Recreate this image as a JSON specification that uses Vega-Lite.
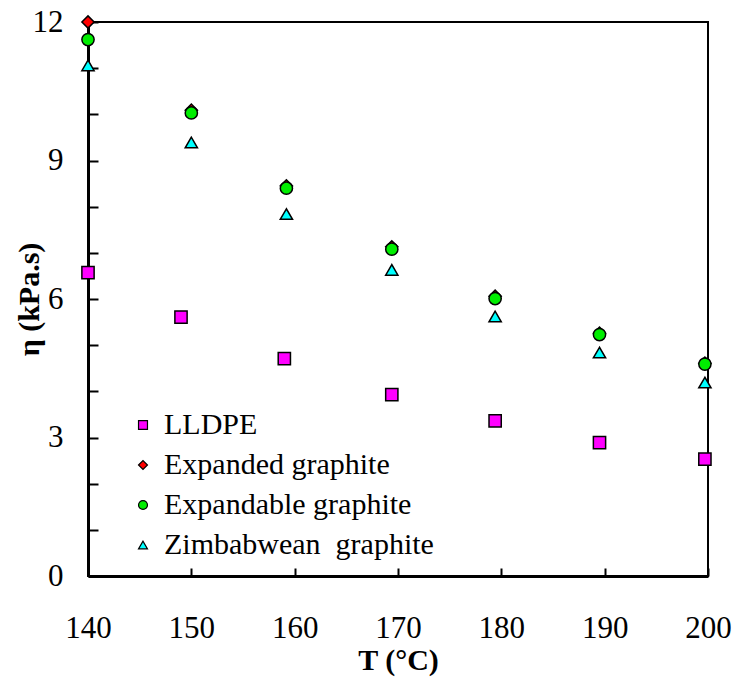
{
  "$schema": "https://vega.github.io/schema/vega-lite/v6.json",
  "width": 620,
  "height": 554,
  "autosize": {"type": "none"},
  "padding": {"left": 88, "top": 22, "right": 34, "bottom": 101},
  "background": "white",
  "config": {
    "font": "Liberation Serif",
    "view": {"stroke": "black", "strokeWidth": 2},
    "axis": {"grid": false, "labelFlush": false, "labelOverlap": false, "domainColor": "black", "domainWidth": 3, "tickColor": "black", "tickWidth": 2, "labelColor": "black", "titleColor": "black", "labelFont": "Liberation Serif", "titleFont": "Liberation Serif"},
    "legend": {"labelFont": "Liberation Serif"}
  },
  "data": {"values": [
    {"T": 140, "eta": 6.57, "series": "LLDPE"},
    {"T": 149, "eta": 5.61, "series": "LLDPE"},
    {"T": 159, "eta": 4.71, "series": "LLDPE"},
    {"T": 169.4, "eta": 3.93, "series": "LLDPE"},
    {"T": 179.4, "eta": 3.36, "series": "LLDPE"},
    {"T": 189.5, "eta": 2.89, "series": "LLDPE"},
    {"T": 199.7, "eta": 2.53, "series": "LLDPE"},
    {"T": 140, "eta": 12.0, "series": "Expanded graphite"},
    {"T": 150, "eta": 10.09, "series": "Expanded graphite"},
    {"T": 159.2, "eta": 8.45, "series": "Expanded graphite"},
    {"T": 169.4, "eta": 7.13, "series": "Expanded graphite"},
    {"T": 179.4, "eta": 6.06, "series": "Expanded graphite"},
    {"T": 189.5, "eta": 5.26, "series": "Expanded graphite"},
    {"T": 199.7, "eta": 4.61, "series": "Expanded graphite"},
    {"T": 140, "eta": 11.62, "series": "Expandable graphite"},
    {"T": 150, "eta": 10.03, "series": "Expandable graphite"},
    {"T": 159.2, "eta": 8.40, "series": "Expandable graphite"},
    {"T": 169.4, "eta": 7.08, "series": "Expandable graphite"},
    {"T": 179.4, "eta": 6.01, "series": "Expandable graphite"},
    {"T": 189.5, "eta": 5.23, "series": "Expandable graphite"},
    {"T": 199.7, "eta": 4.59, "series": "Expandable graphite"},
    {"T": 140, "eta": 11.06, "series": "Zimbabwean\u00a0 graphite"},
    {"T": 150, "eta": 9.39, "series": "Zimbabwean\u00a0 graphite"},
    {"T": 159.2, "eta": 7.84, "series": "Zimbabwean\u00a0 graphite"},
    {"T": 169.4, "eta": 6.63, "series": "Zimbabwean\u00a0 graphite"},
    {"T": 179.4, "eta": 5.62, "series": "Zimbabwean\u00a0 graphite"},
    {"T": 189.5, "eta": 4.84, "series": "Zimbabwean\u00a0 graphite"},
    {"T": 199.7, "eta": 4.19, "series": "Zimbabwean\u00a0 graphite"}
  ]},
  "mark": {"type": "point", "filled": true, "stroke": "black", "strokeWidth": 1.5, "opacity": 1, "size": 150, "clip": false},
  "encoding": {
    "x": {"field": "T", "type": "quantitative",
      "scale": {"domain": [140, 200], "nice": false, "zero": false},
      "axis": {"values": [140, 150, 160, 170, 180, 190, 200], "tickSize": -8, "labelPadding": 45, "labelFontSize": 31, "title": "T (°C)", "titleFontSize": 30, "titleFontWeight": "bold", "titlePadding": 2}},
    "y": {"field": "eta", "type": "quantitative",
      "scale": {"domain": [0, 12], "nice": false},
      "axis": {"values": [0,1,2,3,4,5,6,7,8,9,10,11,12], "labelExpr": "datum.value % 3 === 0 ? datum.label : ''", "tickSize": -10, "labelPadding": 35, "labelFontSize": 31, "title": "η (kPa.s)", "titleFontSize": 30, "titleFontWeight": "bold", "titlePadding": -12}},
    "color": {"field": "series", "type": "nominal",
      "scale": {"domain": ["LLDPE", "Expanded graphite", "Expandable graphite", "Zimbabwean\u00a0 graphite"], "range": ["#ff00ff", "#ff0000", "#00ee00", "#00ffff"]},
      "legend": {"orient": "none", "legendX": 40, "legendY": 388, "title": null, "labelFontSize": 30, "labelColor": "black", "labelLimit": 500, "symbolSize": 80, "symbolStrokeColor": "black", "symbolStrokeWidth": 1.2, "symbolOpacity": 1, "rowPadding": 10, "labelOffset": 6}},
    "shape": {"field": "series", "type": "nominal",
      "scale": {"domain": ["LLDPE", "Expanded graphite", "Expandable graphite", "Zimbabwean\u00a0 graphite"], "range": ["square", "diamond", "circle", "triangle-up"]},
      "legend": null}
  }
}
